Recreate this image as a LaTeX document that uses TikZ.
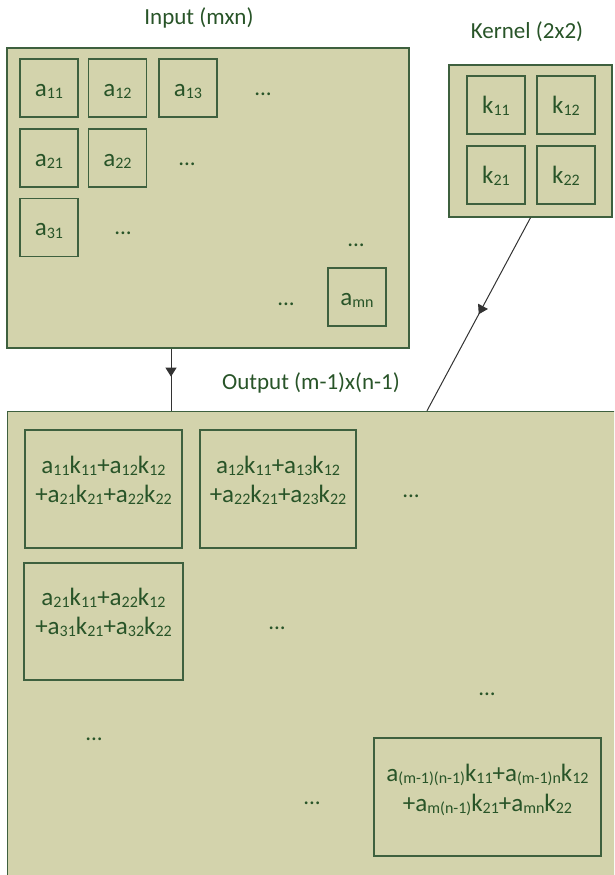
\documentclass[tikz,border=0pt]{standalone}
\usepackage{fontspec}
\setmainfont{Carlito}
\usetikzlibrary{arrows.meta,decorations.markings}
\definecolor{boxfill}{RGB}{211,211,172}
\definecolor{boxline}{RGB}{62,96,62}
\definecolor{txt}{RGB}{40,84,40}
\newcommand\subx[1]{\raisebox{-2.5pt}{\fontsize{16}{16}\selectfont #1}}
\begin{document}
\begin{tikzpicture}[x=1pt,y=-1pt,
  outer/.style={draw=boxline,line width=1.4pt,fill=boxfill,inner sep=0pt},
  cell/.style={draw=boxline,line width=1.3pt,inner sep=0pt,minimum width=58pt,minimum height=58pt,
    text=txt,font=\fontsize{25}{30}\selectfont,text height=20pt,text depth=4pt},
  ocell/.style={draw=boxline,line width=1.3pt,inner sep=0pt},
  ctext/.style={text=txt,font=\fontsize{25}{30}\selectfont,anchor=base,inner sep=0pt},
  lbl/.style={text=txt,font=\fontsize{23}{28}\selectfont,anchor=base,inner sep=0pt},
  dotn/.style={text=txt,font=\fontsize{23}{28}\selectfont,anchor=base,inner sep=0pt},
  conn/.style={draw=black!80,line width=1pt,postaction={decorate},
    decoration={markings,mark=at position #1 with {\arrow{Triangle[length=9pt,width=11pt]}}}}
]
\useasboundingbox (0,0) rectangle (614,875);
\clip (0,0) rectangle (614,875);

% labels
\node[lbl] (linput) at (199,25) {Input (mxn)};
\node[lbl] (lkernel) at (527,38) {Kernel (2x2)};
\node[lbl] (loutput) at (311,389) {Output (m-1)x(n-1)};

% input
\node[outer,minimum width=402pt,minimum height=300pt] (inbox) at (208,198) {};
\node[cell] (a11) at (49,88) {a\subx{11}};
\node[cell] (a12) at (117.5,88) {a\subx{12}};
\node[cell] (a13) at (188,88) {a\subx{13}};
\node[cell] (a21) at (49,158) {a\subx{21}};
\node[cell] (a22) at (117.5,158) {a\subx{22}};
\node[cell] (a31) at (49,227.5) {a\subx{31}};
\node[cell] (amn) at (357,297) {a\subx{mn}};
\node[dotn] (d1) at (263,95) {...};
\node[dotn] (d2) at (187,165) {...};
\node[dotn] (d3) at (123,234) {...};
\node[dotn] (d4) at (356,246) {...};
\node[dotn] (d5) at (286,305) {...};

% kernel
\node[outer,minimum width=163pt,minimum height=152pt] (kbox) at (530.5,141) {};
\node[cell] (k11) at (496,105) {k\subx{11}};
\node[cell] (k12) at (566,105) {k\subx{12}};
\node[cell] (k21) at (496,175) {k\subx{21}};
\node[cell] (k22) at (566,175) {k\subx{22}};

% output
\node[outer,minimum width=620pt,minimum height=480pt] (outbox) at (317.5,651.5) {};
\node[ocell,minimum width=157pt,minimum height=118pt] (o1) at (103.5,489) {};
\node[ocell,minimum width=156pt,minimum height=118pt] (o2) at (278,489) {};
\node[ocell,minimum width=159pt,minimum height=117pt] (o3) at (103.5,621.5) {};
\node[ocell,minimum width=227pt,minimum height=118pt] (o4) at (487.5,797) {};

\node[ctext] (o1a) at (103.5,473) {a\subx{11}k\subx{11}+a\subx{12}k\subx{12}};
\node[ctext] (o1b) at (103.5,502) {+a\subx{21}k\subx{21}+a\subx{22}k\subx{22}};
\node[ctext] (o2a) at (278,473) {a\subx{12}k\subx{11}+a\subx{13}k\subx{12}};
\node[ctext] (o2b) at (278,502) {+a\subx{22}k\subx{21}+a\subx{23}k\subx{22}};
\node[ctext] (o3a) at (103.5,605) {a\subx{21}k\subx{11}+a\subx{22}k\subx{12}};
\node[ctext] (o3b) at (103.5,634) {+a\subx{31}k\subx{21}+a\subx{32}k\subx{22}};
\node[ctext] (o4a) at (487.5,781) {a\subx{(m-1)(n-1)}k\subx{11}+a\subx{(m-1)n}k\subx{12}};
\node[ctext] (o4b) at (487.5,811) {+a\subx{m(n-1)}k\subx{21}+a\subx{mn}k\subx{22}};

\node[dotn] (e1) at (411,497) {...};
\node[dotn] (e2) at (277,629) {...};
\node[dotn] (e3) at (487,695) {...};
\node[dotn] (e4) at (94,740) {...};
\node[dotn] (e5) at (312,804) {...};

% connectors
\coordinate (vx) at (171,0);
\coordinate (kx) at (427,0);
\draw[conn=0.45] (vx |- inbox.south) -- (vx |- outbox.north);
\draw[conn=0.5] (kbox.south) -- (kx |- outbox.north);
\end{tikzpicture}
\end{document}
